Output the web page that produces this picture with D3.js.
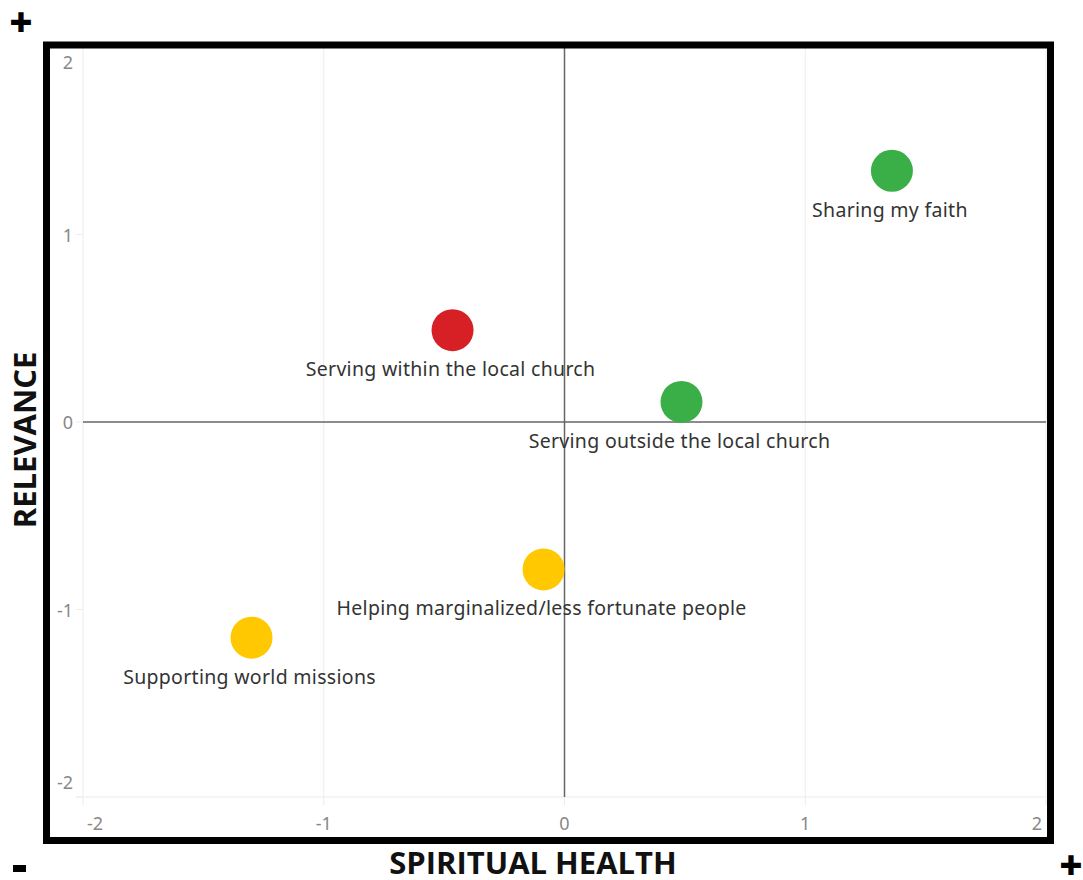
<!DOCTYPE html>
<html>
<head>
<meta charset="utf-8">
<script src="https://cdn.jsdelivr.net/npm/d3@7.9.0/dist/d3.min.js"></script>
<style>
  body { margin: 0; background: #fff; }
  svg { display: block; }
</style>
</head>
<body>
<svg id="chart" width="1083" height="880"></svg>
<script>
const labels = [
  'Sharing my faith',
  'Serving within the local church',
  'Serving outside the local church',
  'Helping marginalized/less fortunate people',
  'Supporting world missions'
];
const spiritualHealth = [1.36, -0.465, 0.486, -0.087, -1.30];
const relevance = [1.34, 0.49, 0.107, -0.786, -1.15];
const colors = ['#3aae47', '#d71f26', '#3aae47', '#ffc800', '#ffc800'];
const ticks = [-2, -1, 0, 1, 2];

const points = labels.map((label, i) => ({
  label, x: spiritualHealth[i], y: relevance[i], color: colors[i]
}));

const svg = d3.select('#chart');
const x = d3.scaleLinear().domain([-2, 2]).range([83, 1046]);
const y = d3.scaleLinear().domain([-2, 2]).range([797, 47]);

// grid
svg.append('g')
  .selectAll('line')
  .data(ticks)
  .join('line')
  .attr('x1', (d) => x(d)).attr('x2', (d) => x(d))
  .attr('y1', y(2)).attr('y2', y(-2) + 8)
  .attr('stroke', '#ececec');

svg.append('line')
  .attr('x1', x(-2) - 7).attr('x2', x(2))
  .attr('y1', y(-2)).attr('y2', y(-2))
  .attr('stroke', '#ececec');

// short y tick marks
svg.append('g')
  .selectAll('line')
  .data(ticks)
  .join('line')
  .attr('x1', x(-2) - 7).attr('x2', x(-2))
  .attr('y1', (d) => y(d)).attr('y2', (d) => y(d))
  .attr('stroke', '#ececec');

// zero lines
svg.append('line')
  .attr('x1', x(-2)).attr('x2', x(2))
  .attr('y1', y(0)).attr('y2', y(0))
  .attr('stroke', '#666').attr('stroke-width', 1.5);
svg.append('line')
  .attr('x1', x(0)).attr('x2', x(0))
  .attr('y1', y(2)).attr('y2', y(-2))
  .attr('stroke', '#666').attr('stroke-width', 1.5);

// tick labels
const tickFont = '"Noto Sans", sans-serif';
svg.append('g')
  .selectAll('text')
  .data(ticks)
  .join('text')
  .attr('x', (d) => d === -2 ? x(d) + 12 : d === 2 ? x(d) - 9 : x(d))
  .attr('y', 830)
  .attr('text-anchor', 'middle')
  .attr('font-family', tickFont)
  .attr('font-size', 18)
  .attr('fill', '#888')
  .text((d) => d);

svg.append('g')
  .selectAll('text')
  .data(ticks)
  .join('text')
  .attr('x', 73)
  .attr('y', (d) => d === 2 ? y(d) + 22 : d === -2 ? y(d) - 8 : y(d) + 7)
  .attr('text-anchor', 'end')
  .attr('font-family', tickFont)
  .attr('font-size', 18)
  .attr('fill', '#888')
  .text((d) => d);

// points
svg.append('g')
  .selectAll('circle')
  .data(points)
  .join('circle')
  .attr('cx', (d) => x(d.x))
  .attr('cy', (d) => y(d.y))
  .attr('r', 21)
  .attr('fill', (d) => d.color);

svg.append('g')
  .selectAll('text')
  .data(points)
  .join('text')
  .attr('x', (d) => x(d.x) - 2)
  .attr('y', (d) => y(d.y) + 46)
  .attr('text-anchor', 'middle')
  .attr('font-family', tickFont)
  .attr('font-size', 19.5)
  .attr('letter-spacing', 0.3)
  .attr('fill', '#333')
  .text((d) => d.label);

// frame
svg.append('rect')
  .attr('x', 46.5).attr('y', 45)
  .attr('width', 1004).attr('height', 795.5)
  .attr('fill', 'none')
  .attr('stroke', '#000')
  .attr('stroke-width', 7);

// axis titles
const titleFont = '"Open Sans", sans-serif';
svg.append('text')
  .attr('x', 533).attr('y', 874)
  .attr('text-anchor', 'middle')
  .attr('font-family', titleFont)
  .attr('font-weight', 700)
  .attr('font-size', 31)
  .attr('fill', '#111')
  .text('SPIRITUAL HEALTH');

svg.append('text')
  .attr('transform', 'translate(36,440) rotate(-90)')
  .attr('text-anchor', 'middle')
  .attr('font-family', titleFont)
  .attr('font-weight', 700)
  .attr('font-size', 31)
  .attr('fill', '#111')
  .text('RELEVANCE');

svg.append('text')
  .attr('x', 21).attr('y', 37)
  .attr('text-anchor', 'middle')
  .attr('font-family', titleFont)
  .attr('font-weight', 800)
  .attr('font-size', 40)
  .text('+');
svg.append('text')
  .attr('x', 1071).attr('y', 880)
  .attr('text-anchor', 'middle')
  .attr('font-family', titleFont)
  .attr('font-weight', 800)
  .attr('font-size', 40)
  .text('+');
svg.append('rect')
  .attr('x', 13).attr('y', 865)
  .attr('width', 13).attr('height', 7)
  .attr('fill', '#000');
</script>
</body>
</html>
